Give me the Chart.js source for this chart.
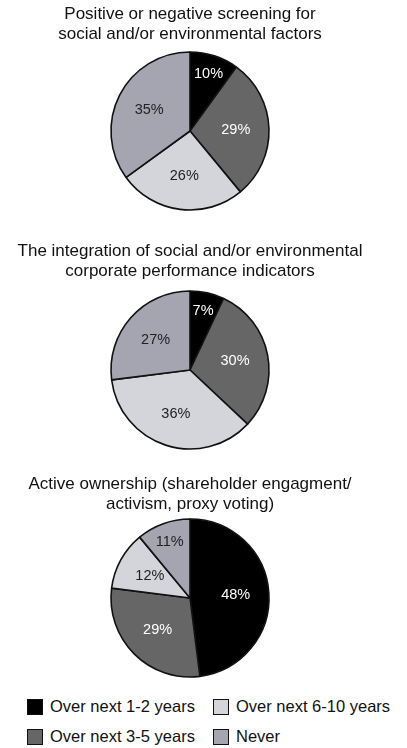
<!DOCTYPE html>
<html>
<head>
<meta charset="utf-8">
<script src="https://cdn.jsdelivr.net/npm/chart.js@4.4.1/dist/chart.umd.min.js"></script>
<style>
  html, body { margin: 0; padding: 0; background: #fff; }
  body { width: 407px; height: 748px; position: relative; overflow: hidden; font-family: "Liberation Sans", Arial, sans-serif; }
  canvas { position: absolute; left: 0; }
  .legenda { position: absolute; font-size: 16.5px; color: #111; white-space: nowrap; line-height: 17px; }
  .legenda span.caixa { position: absolute; left: 0; top: 0; width: 14px; height: 14px; border: 1.5px solid #111; }
  .legenda span.texto { position: absolute; left: 23px; top: -1px; }
</style>
</head>
<body>
<canvas id="grafico1" width="380" height="220" style="top:0px"></canvas>
<canvas id="grafico2" width="380" height="220" style="top:237px"></canvas>
<canvas id="grafico3" width="380" height="220" style="top:470px"></canvas>
<div id="legenda"></div>

<script>
const categorias = ["Over next 1-2 years", "Over next 3-5 years", "Over next 6-10 years", "Never"];
const triagem = [10, 29, 26, 35];
const integracao = [7, 30, 36, 27];
const propriedadeAtiva = [48, 29, 12, 11];

const titulos = [
    ["Positive or negative screening for", "social and/or environmental factors"],
    ["The integration of social and/or environmental", "corporate performance indicators"],
    ["Active ownership (shareholder engagment/", "activism, proxy voting)"]
];

const cores = ["#000000", "#666666", "#d4d5da", "#a4a5b1"];
const coresDoTexto = ["#ffffff", "#ffffff", "#222222", "#222222"];

const fonte = "'Liberation Sans', Arial, sans-serif";

const rotulosDePorcentagem = {
    id: "rotulosDePorcentagem",
    afterDatasetsDraw(chart) {
        const ctx = chart.ctx;
        const meta = chart.getDatasetMeta(0);
        const valores = chart.data.datasets[0].data;
        ctx.save();
        ctx.font = "14.5px " + fonte;
        ctx.textAlign = "center";
        ctx.textBaseline = "middle";
        meta.data.forEach((arco, i) => {
            const p = arco.getProps(["x", "y", "startAngle", "endAngle", "outerRadius"], true);
            const meio = (p.startAngle + p.endAngle) / 2;
            const fator = valores[i] < 12 ? 0.76 : 0.58;
            const x = p.x + Math.cos(meio) * p.outerRadius * fator;
            const y = p.y + Math.sin(meio) * p.outerRadius * fator;
            ctx.fillStyle = coresDoTexto[i];
            ctx.fillText(valores[i] + "%", x, y);
        });
        ctx.restore();
    }
};

function criarGrafico(id, titulo, valores, paddingInferior) {
    const ctx = document.querySelector(id);
    return new Chart(ctx, {
        type: "pie",
        data: {
            labels: categorias,
            datasets: [{
                data: valores,
                backgroundColor: cores,
                borderColor: "#111111",
                borderWidth: 1.6,
                radius: 79
            }]
        },
        options: {
            responsive: false,
            animation: false,
            layout: { padding: { bottom: paddingInferior } },
            plugins: {
                legend: { display: false },
                tooltip: { enabled: false },
                title: {
                    display: true,
                    text: titulo,
                    color: "#111111",
                    font: { family: fonte, size: 17, weight: "normal", lineHeight: 1.2 },
                    padding: { top: 4, bottom: 6 }
                }
            }
        },
        plugins: [rotulosDePorcentagem]
    });
}

criarGrafico("#grafico1", titulos[0], triagem, 8.8);
criarGrafico("#grafico2", titulos[1], integracao, 4.8);
criarGrafico("#grafico3", titulos[2], propriedadeAtiva, 14.8);

// legenda em duas colunas, na mesma ordem da figura
const posicoesDaLegenda = [
    { left: 27, top: 699 },
    { left: 27, top: 729 },
    { left: 213, top: 699 },
    { left: 213, top: 729 }
];

const legenda = document.querySelector("#legenda");
categorias.forEach((categoria, i) => {
    const item = document.createElement("div");
    item.className = "legenda";
    item.style.left = posicoesDaLegenda[i].left + "px";
    item.style.top = posicoesDaLegenda[i].top + "px";
    item.innerHTML = `<span class="caixa" style="background:${cores[i]}"></span><span class="texto">${categoria}</span>`;
    legenda.appendChild(item);
});
</script>
</body>
</html>
